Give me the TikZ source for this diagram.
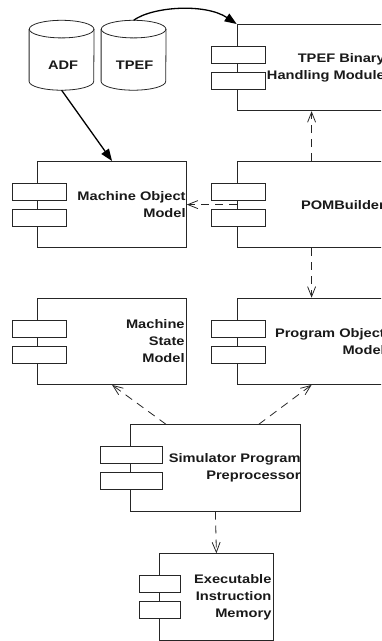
\documentclass[tikz,border=0pt]{standalone}
\usepackage{fontspec}
\newfontfamily\lblfont[FakeStretch=1.18]{Liberation Sans}
\usetikzlibrary{arrows.meta,calc}
\tikzset{
  comp/.style={draw=black!85, line width=0.8pt, minimum height=86.4pt, inner sep=0pt, anchor=north west},
  port/.style={draw=black!85, fill=white, line width=0.8pt, minimum height=17pt, inner sep=0pt},
  lbl/.style={font=\lblfont\bfseries\fontsize{12.4}{17}\selectfont, text=black!90, align=right, anchor=east, inner sep=0pt},
  storebox/.style={minimum width=64.6pt, minimum height=69.5pt, inner sep=0pt},
  storelbl/.style={font=\lblfont\bfseries\fontsize{12.4}{17}\selectfont, text=black!90, inner sep=0pt},
  cyl/.style={draw=black!85, line width=0.8pt},
  dep/.style={draw=black!85, line width=0.8pt, dash pattern=on 8pt off 6pt, -{Straight Barb[length=10pt,width=8pt]}},
  flow/.style={draw=black, line width=1.3pt, -{Triangle[length=12pt,width=9pt]}}
}
\begin{document}
\begin{tikzpicture}[x=1pt,y=-1pt]
\useasboundingbox (0,0) rectangle (381,641);
\clip (0,0) rectangle (381,641);
% components
\node[comp, minimum width=149pt] (tb) at (236.7,24) {};
\node[comp, minimum width=148.7pt] (mom) at (37.3,161) {};
\node[comp, minimum width=149pt] (pomb) at (236.7,161) {};
\node[comp, minimum width=148.7pt] (msm) at (37.3,297.7) {};
\node[comp, minimum width=149pt] (pom) at (236.7,297.7) {};
\node[comp, minimum width=170pt] (sim) at (130,424.3) {};
\node[comp, minimum width=114.6pt] (eim) at (158.7,553.3) {};
% ports
\node[port, minimum width=54pt] (tbpa) at ($(tb.north west)+(2,30.9)$) {};
\node[port, minimum width=54pt] (tbpb) at ($(tb.north west)+(2,56.7)$) {};
\node[port, minimum width=54pt] (mompa) at ($(mom.north west)+(2,30.9)$) {};
\node[port, minimum width=54pt] (mompb) at ($(mom.north west)+(2,56.7)$) {};
\node[port, minimum width=54pt] (pombpa) at ($(pomb.north west)+(2,30.9)$) {};
\node[port, minimum width=54pt] (pombpb) at ($(pomb.north west)+(2,56.7)$) {};
\node[port, minimum width=54pt] (msmpa) at ($(msm.north west)+(2,30.9)$) {};
\node[port, minimum width=54pt] (msmpb) at ($(msm.north west)+(2,56.7)$) {};
\node[port, minimum width=54pt] (pompa) at ($(pom.north west)+(2,30.9)$) {};
\node[port, minimum width=54pt] (pompb) at ($(pom.north west)+(2,56.7)$) {};
\node[port, minimum width=62pt] (simpa) at ($(sim.north west)+(1.7,30.9)$) {};
\node[port, minimum width=62pt] (simpb) at ($(sim.north west)+(1.7,56.7)$) {};
\node[port, minimum width=41.7pt] (eimpa) at ($(eim.north west)+(1.2,30.9)$) {};
\node[port, minimum width=41.7pt] (eimpb) at ($(eim.north west)+(1.2,56.7)$) {};
% labels
\node[lbl] (tbl) at ($(tb.east)+(-1.5,0)$) {TPEF Binary\\Handling Module};
\node[lbl] (moml) at ($(mom.east)+(-1,0)$) {Machine Object\\Model};
\node[lbl] (pombl) at ($(pomb.east)+(-1.5,0)$) {POMBuilder};
\node[lbl] (msml) at ($(msm.east)+(-2,0)$) {Machine\\State\\Model};
\node[lbl] (poml) at ($(pom.east)+(-1.5,0)$) {Program Object\\Model};
\node[lbl] (siml) at ($(sim.east)+(0,0)$) {Simulator Program\\Preprocessor};
\node[lbl] (eiml) at ($(eim.east)+(-2.5,0)$) {Executable\\Instruction\\Memory};
% data stores
\node[storebox] (adf) at (61.6,55.25) {};
\node[storebox] (tpef) at (133.6,55.25) {};
\foreach \s in {adf,tpef}{
  \draw[cyl] ($(\s.north)+(0,8.8)$) ellipse[x radius=32.3, y radius=8.8];
  \draw[cyl] ($(\s.north west)+(0,8.8)$) -- ($(\s.south west)+(0,-8.8)$)
     arc[start angle=180, end angle=0, x radius=32.3, y radius=8.8]
     -- ($(\s.north east)+(0,8.8)$);
}
\node[storelbl] (adft) at ($(adf.center)+(1.5,9.5)$) {ADF};
\node[storelbl] (tpeft) at ($(tpef.center)+(1,9.5)$) {TPEF};
% connectors
\draw[flow] (tpef.north) .. controls +(18.7,-13.7) and +(-31.7,-21) .. (tb.north west);
\draw[flow] (adf.south) -- (mom.north);
\draw[dep] (pomb.north) -- (tb.south);
\draw[dep] (pomb.west) -- (mom.east);
\draw[dep] (pomb.south) -- (pom.north);
\draw[dep] ($(sim.north west)+(36,0)$) -- (msm.south);
\draw[dep] ($(sim.north east)+(-42,0)$) -- (pom.south);
\draw[dep] (sim.south) -- (eim.north);
\end{tikzpicture}
\end{document}
